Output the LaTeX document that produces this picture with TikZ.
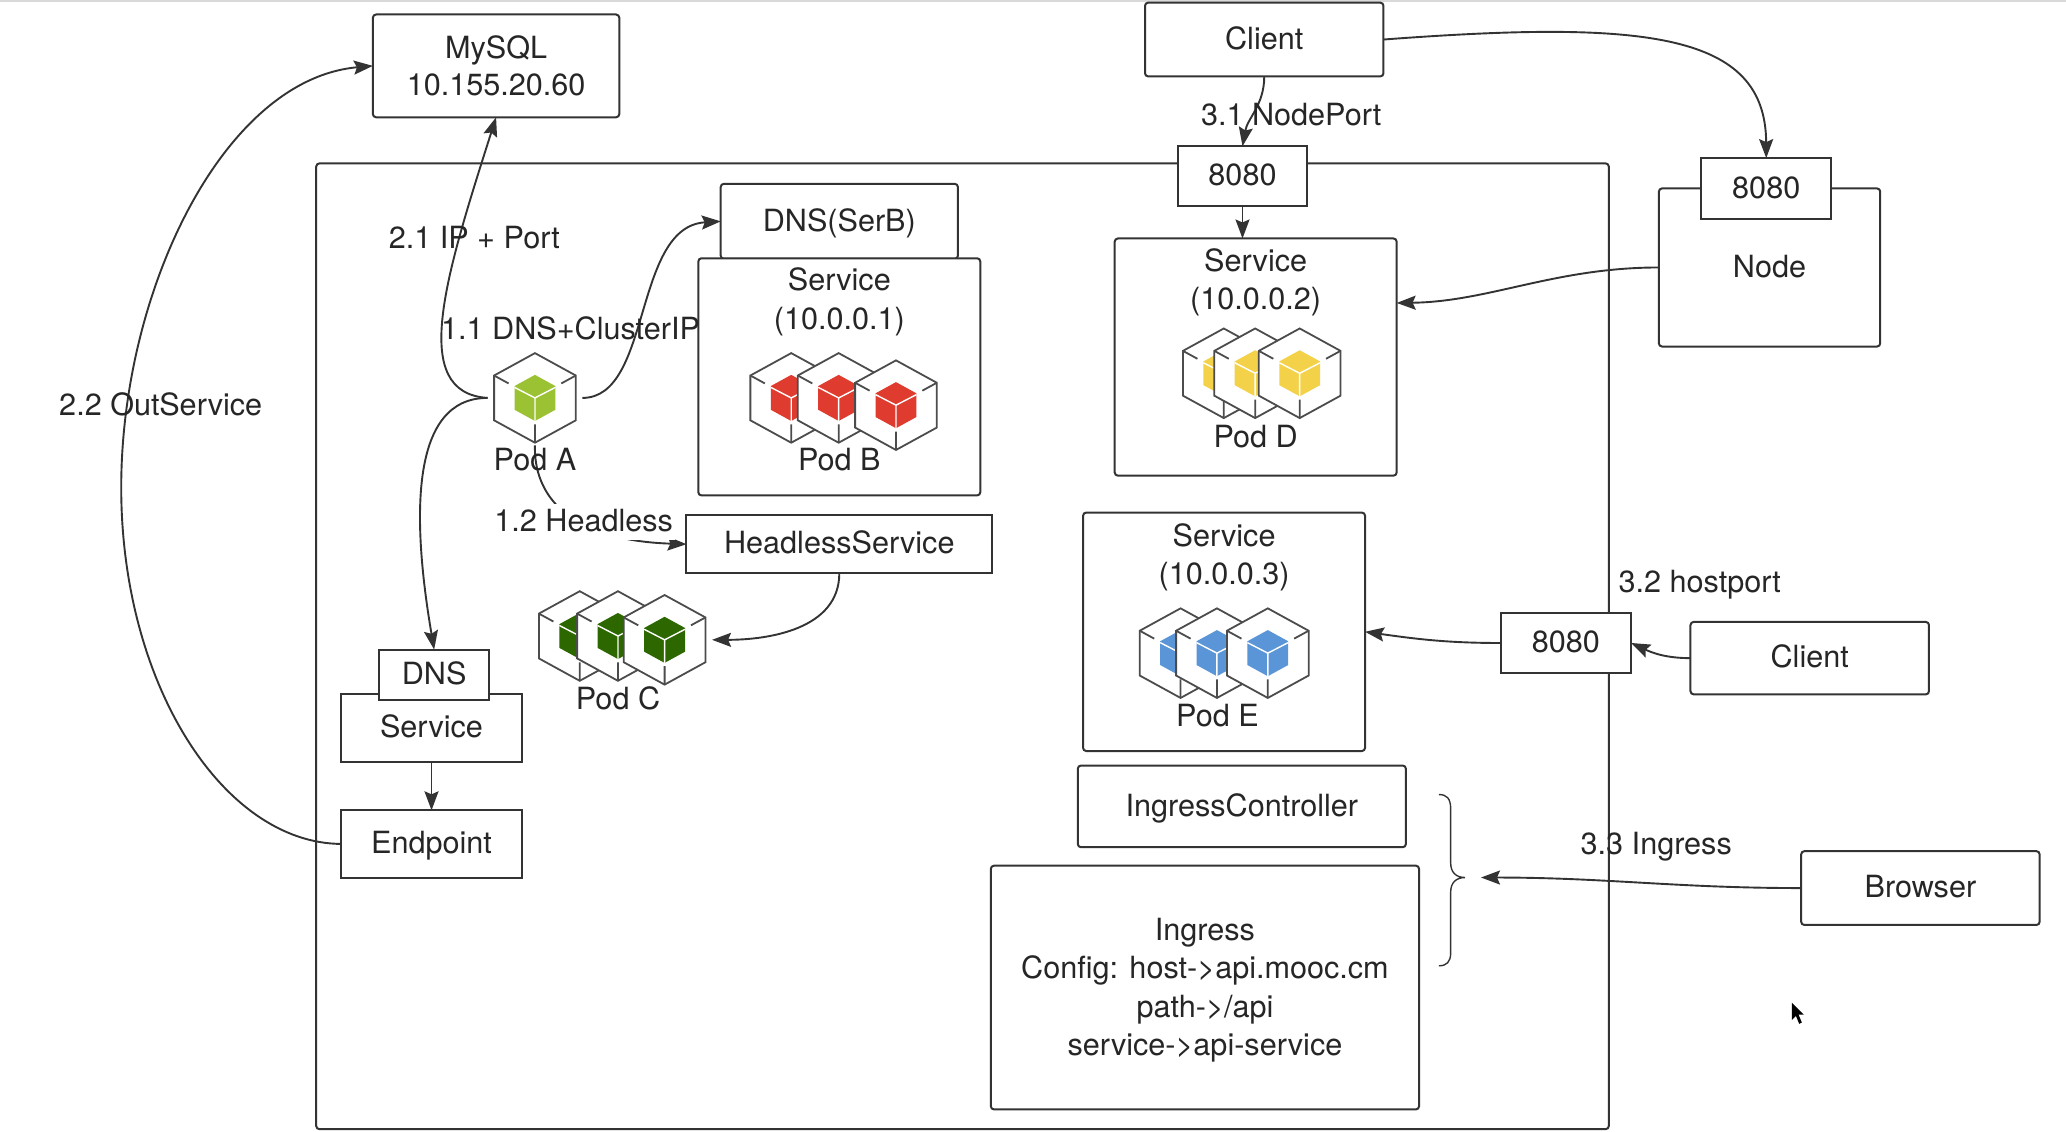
\documentclass[tikz,border=0pt]{standalone}
\usepackage{fontspec}
\setmainfont{TeX Gyre Heros}
\usepackage{tikz}
\usetikzlibrary{arrows.meta}
\def\px{0.6588pt}
\definecolor{linecol}{HTML}{333333}
\definecolor{textcol}{HTML}{262626}
\definecolor{podgreen}{HTML}{9BC232}
\definecolor{podred}{HTML}{DF3B2E}
\definecolor{poddark}{HTML}{2C6700}
\definecolor{podyellow}{HTML}{F3D24A}
\definecolor{podblue}{HTML}{5A95D8}
\tikzset{
  wh/.style 2 args={minimum width=#1*\px,minimum height=#2*\px},
  oneline/.style={text height=11pt,text depth=1.2pt},
  sharpbox/.style={draw=linecol,fill=white,line width=1pt,inner sep=0pt,outer sep=0pt,align=center},
  roundbox/.style={sharpbox,rounded corners=1.6pt},
  txt/.style={inner sep=0pt,align=center},
  podanchor/.style={inner sep=0pt,outer sep=0pt,wh={72}{72}},
  podline/.style={draw=black!70,line width=0.9pt},
  pics/pod/.style={code={
    \filldraw[podline,fill=white] (0,34) -- (31,17) -- (31,-17) -- (0,-34) -- (-31,-17) -- (-31,17) -- cycle;
    \fill[#1] (0,17.5) -- (15.5,9) -- (15.5,-9) -- (0,-17.5) -- (-15.5,-9) -- (-15.5,9) -- cycle;
    \draw[white,line width=0.7pt] (0,0) -- (-15.5,8) (0,0) -- (15.5,8) (0,0) -- (0,-17.5);
    \draw[podline] (-31,17) -- (-20,11) (31,17) -- (20,11) (0,-34) -- (0,-20);
  }}
}
\begin{document}
\begin{tikzpicture}[x=\px,y=\px,>={Stealth[length=9.5pt,width=7pt,inset=1.5pt]},
  every node/.style={text=textcol,font=\fontsize{15.3}{19.1}\selectfont},
  every path/.style={line width=0.95pt}]
\useasboundingbox (0,0) rectangle (1568,-859.1);
\fill[black!15] (0,0) rectangle (1568,-1.5);
\draw[linecol,line width=1pt,rounded corners=1.6pt] (240,-124) rectangle (1221,-857);
\node[roundbox,wh={187}{78}] (mysql) at (376.5,-50) {MySQL\\[-1pt]10.155.20.60};
\node[roundbox,oneline,wh={181}{56}] (clientA) at (959.5,-30) {Client};
\node[sharpbox,oneline,wh={98}{45}] (portA) at (943,-133.5) {8080};
\node[roundbox,oneline,wh={180}{57}] (dnsB) at (637,-168) {DNS(SerB)};
\node[roundbox,wh={214}{180}] (svcB) at (637,-286) {};
\node[roundbox,wh={214}{180}] (svcD) at (953,-271) {};
\node[roundbox,oneline,wh={168}{120}] (nodeR) at (1343,-203) {Node};
\node[sharpbox,oneline,wh={99}{46}] (portR) at (1340.5,-143) {8080};
\node[sharpbox,oneline,wh={232}{44}] (headless) at (637,-413) {HeadlessService};
\node[roundbox,wh={214}{181}] (svcE) at (929,-479.5) {};
\node[sharpbox,oneline,wh={99}{46}] (portE) at (1188.5,-488) {8080};
\node[roundbox,oneline,wh={181}{55}] (clientE) at (1373.5,-499.5) {Client};
\node[sharpbox,oneline,wh={137}{51}] (svcS) at (327.5,-552.5) {Service};
\node[sharpbox,oneline,wh={83}{38}] (dnsS) at (329.5,-512) {DNS};
\node[sharpbox,oneline,wh={137}{51}] (endpoint) at (327.5,-640.5) {Endpoint};
\node[roundbox,oneline,wh={249}{62}] (ingctl) at (942.5,-612) {IngressController};
\node[roundbox,wh={325}{185}] (ingress) at (914.5,-749.5) {};
\node[roundbox,oneline,wh={181}{56}] (browser) at (1457.5,-674) {Browser};
\node[txt] (svcBtxt) at (637,-229) {Service\\(10.0.0.1)};
\node[txt] (svcDtxt) at (953,-214) {Service\\(10.0.0.2)};
\node[txt] (svcEtxt) at (929,-423) {Service\\(10.0.0.3)};
\node[txt] (ingtxt) at (914.5,-751.5) {Ingress\\Config: host->api.mooc.cm\\path->/api\\service->api-service};
\pic at (406,-302) {pod=podgreen};
\pic at (600.5,-302) {pod=podred};
\pic at (636.5,-302) {pod=podred};
\pic at (680,-307.5) {pod=podred};
\pic at (440,-482.7) {pod=poddark};
\pic at (469,-482.7) {pod=poddark};
\pic at (504.4,-485.6) {pod=poddark};
\pic at (928.8,-283.3) {pod=podyellow};
\pic at (952.6,-283.3) {pod=podyellow};
\pic at (986.4,-283.3) {pod=podyellow};
\pic at (896,-495.7) {pod=podblue};
\pic at (923.6,-495.7) {pod=podblue};
\pic at (962.2,-495.7) {pod=podblue};
\node[podanchor] (podA) at (406,-302) {};
\node[podanchor] (podC) at (504.4,-485.6) {};
\coordinate (braceTip) at (1124,-666);
\draw[->,linecol] (podA.east) .. controls (495,-302) and (480,-172) .. (dnsB.west);
\draw[->,linecol] (podA.west) .. controls (310,-298) and (338,-210) .. (mysql.south);
\draw[->,linecol] (podA.west) .. controls (312,-302) and (312,-390) .. (dnsS.north);
\draw[->,linecol] (podA.south) .. controls (405,-375) and (430,-410) .. (headless.west);
\draw[->,linecol] (headless.south) to [out=270,in=0] (podC.east);
\draw[->,linecol] (svcS.south) -- (endpoint.north);
\draw[->,linecol] (endpoint.west) .. controls (170,-640) and (92,-520) .. (92,-370) .. controls (92,-220) and (170,-60) .. (mysql.west);
\draw[->,linecol] (clientA.south) to [out=270,in=80] (portA.north);
\draw[->,linecol] (clientA.east) .. controls (1250,-15) and (1340,-25) .. (portR.north);
\draw[->,linecol] (portA.south) -- (portA.south |- svcD.north);
\draw[->,linecol] (nodeR.west) .. controls (1180,-203) and (1130,-229) .. (svcD.21.4);
\draw[->,linecol] (portE.west) to [out=180,in=-8] (svcE.east);
\draw[->,linecol] (clientE.west) to [out=180,in=-25] (portE.east);
\draw[->,linecol] (browser.west) to [out=180,in=0] (braceTip);
\draw[linecol,line width=0.7pt] (1092,-603) .. controls (1098,-603) and (1101,-606) .. (1101,-614) -- (1101,-655) .. controls (1101,-662) and (1105,-666) .. (1112,-666) .. controls (1105,-666) and (1101,-670) .. (1101,-677) -- (1101,-723) .. controls (1101,-730) and (1098,-733) .. (1092,-733);
\fill[black] (1360,-761) -- (1360,-774) -- (1363,-771) -- (1365.5,-777) -- (1367.5,-776) -- (1365,-770) -- (1369,-770) -- cycle;
\node[txt,oneline] (lblPodA) at (406,-350) {Pod A};
\node[txt,oneline] (lblPodB) at (637,-350) {Pod B};
\node[txt,oneline] (lblPodC) at (469,-531) {Pod C};
\node[txt,oneline] (lblPodD) at (953,-332) {Pod D};
\node[txt,oneline] (lblPodE) at (924,-544) {Pod E};
\node[txt,oneline] (lblDns) at (433,-250) {1.1 DNS+ClusterIP};
\node[txt,oneline] (lblIp) at (360,-181) {2.1 IP + Port};
\node[txt,oneline,fill=white,inner xsep=1pt,inner ysep=3pt] (lblHeadless) at (443,-396) {1.2 Headless};
\node[txt,oneline] (lblOut) at (122,-308) {2.2 OutService};
\node[txt,oneline] (lblNodePort) at (980,-88) {3.1 NodePort};
\node[txt,oneline] (lblHost) at (1290,-442) {3.2 hostport};
\node[txt,oneline] (lblIng) at (1257,-641) {3.3 Ingress};
\end{tikzpicture}
\end{document}
